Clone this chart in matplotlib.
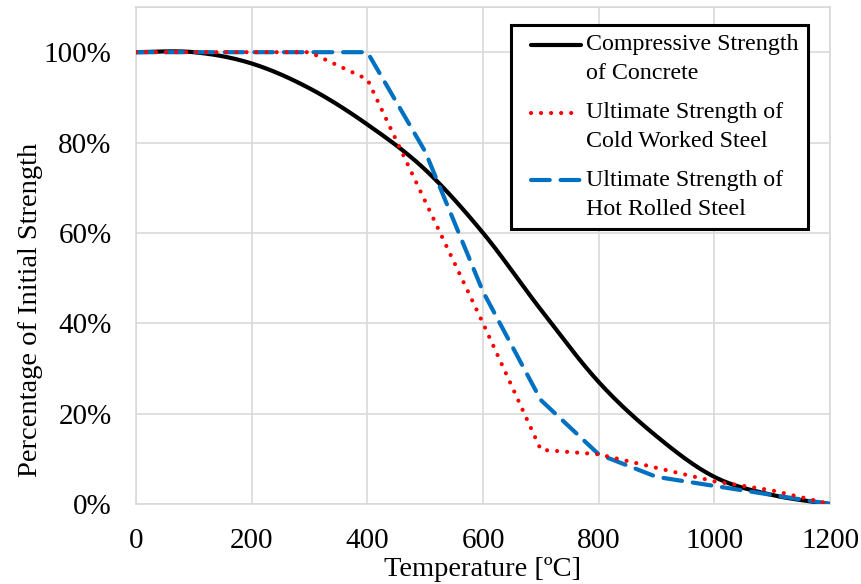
import numpy as np
import matplotlib
matplotlib.use("Agg")
import matplotlib.pyplot as plt
from matplotlib.legend_handler import HandlerLine2D

# Temperature points [°C]
temperature = [0, 100, 200, 300, 400, 500, 600, 700, 800, 900, 1000, 1100, 1200]

# Strength retention factors (fraction of strength at ambient temperature)
concrete = [1.00, 1.00, 0.975, 0.92, 0.84, 0.74, 0.60, 0.43, 0.27, 0.15, 0.06, 0.02, 0.00]
cold_worked = [1.00, 1.00, 1.00, 1.00, 0.94, 0.67, 0.40, 0.12, 0.11, 0.08, 0.05, 0.03, 0.00]
hot_rolled = [1.00, 1.00, 1.00, 1.00, 1.00, 0.78, 0.47, 0.23, 0.11, 0.06, 0.04, 0.02, 0.00]

labels = [
    "Compressive Strength\nof Concrete",
    "Ultimate Strength of\nCold Worked Steel",
    "Ultimate Strength of\nHot Rolled Steel",
]
x_ticks = [0, 200, 400, 600, 800, 1000, 1200]
y_ticks = [0, 0.2, 0.4, 0.6, 0.8, 1.0]


def smooth(xs, ys, n=30):
    """Catmull-Rom smoothing through the data points (smoothed line style)."""
    p = np.column_stack([xs, ys]).astype(float)
    p = np.vstack([p[0], p, p[-1]])
    out = []
    t = np.linspace(0, 1, n, endpoint=False)[:, None]
    for i in range(1, len(p) - 2):
        p0, p1, p2, p3 = p[i - 1], p[i], p[i + 1], p[i + 2]
        m1 = (p2 - p0) / 2
        m2 = (p3 - p1) / 2
        h00 = 2 * t**3 - 3 * t**2 + 1
        h10 = t**3 - 2 * t**2 + t
        h01 = -2 * t**3 + 3 * t**2
        h11 = t**3 - t**2
        out.append(h00 * p1 + h10 * m1 + h01 * p2 + h11 * m2)
    out.append(p[-2][None, :])
    seg = np.vstack(out)
    return seg[:, 0], seg[:, 1]


class InsetLineHandler(HandlerLine2D):
    """Legend line handle inset from the left and aligned with the first text line."""

    def __init__(self, inset=6.5, dy=10.0, **kw):
        super().__init__(**kw)
        self.inset = inset
        self.dy = dy

    def get_xdata(self, legend, xdescent, ydescent, width, height, fontsize):
        _, xmarker = super().get_xdata(legend, xdescent, ydescent, width, height, fontsize)
        xdata = np.array([-xdescent + self.inset, -xdescent + width], dtype=float)
        return xdata, xmarker

    def create_artists(self, legend, orig_handle, xdescent, ydescent, width, height,
                       fontsize, trans):
        artists = super().create_artists(legend, orig_handle, xdescent, ydescent,
                                         width, height, fontsize, trans)
        for a in artists:
            a.set_ydata(np.asarray(a.get_ydata(), dtype=float) + self.dy)
        return artists


plt.rcParams["font.family"] = ["Liberation Serif", "DejaVu Serif"]

fig = plt.figure(figsize=(8.62, 5.84), dpi=100)
ax = fig.add_axes([0.1578, 0.137, 0.8051, 0.851])

grid_col = "#d9d9d9"

cx, cy = smooth(temperature, concrete)
l1, = ax.plot(cx, cy, color="black", lw=3.0, solid_capstyle="round", label=labels[0], zorder=3)
l2, = ax.plot(temperature, cold_worked, color="#ff0000", lw=3.0, linestyle=(0, (0.01, 2.4)),
              dash_capstyle="round", label=labels[1], zorder=4)
l3, = ax.plot(temperature, hot_rolled, color="#0070c0", lw=3.0, linestyle=(0, (4.5, 2.6)),
              dash_capstyle="round", label=labels[2], zorder=3)

ax.set_xlim(0, 1200)
ax.set_ylim(0, 1.1)
ax.set_xticks(x_ticks)
ax.set_yticks(y_ticks + [1.1])
ax.set_yticklabels([f"{int(round(v * 100))}%" for v in y_ticks] + [""])
ax.grid(True, color=grid_col, lw=1.2)
ax.set_axisbelow(True)
for s in ax.spines.values():
    s.set_color(grid_col)
    s.set_linewidth(1.2)
ax.tick_params(axis="both", length=0, labelsize=21)
ax.tick_params(axis="y", pad=17.5)
ax.tick_params(axis="x", pad=17)

ax.set_xlabel("Temperature [ºC]", fontsize=20.5, va="baseline")
ax.xaxis.set_label_coords(0.5, -0.145)
ax.set_ylabel("Percentage of Initial Strength", fontsize=20.5, va="baseline", ha="center")
ax.yaxis.set_label_coords(-0.1427, 0.39)

handler = InsetLineHandler(inset=7.85, dy=10.0)
leg = ax.legend(handles=[l1, l2, l3], loc="upper right", bbox_to_anchor=(0.968, 0.964),
                fontsize=17.3, frameon=True, fancybox=False, edgecolor="black", framealpha=1,
                handlelength=2.54, handletextpad=0.2, borderpad=0.38,
                labelspacing=0.74, borderaxespad=0,
                handler_map={l1: handler, l2: handler, l3: handler})
leg.get_frame().set_linewidth(2.2)
for txt in leg.get_texts():
    txt.set_linespacing(1.5)

fig.savefig("out.png", dpi=100)
